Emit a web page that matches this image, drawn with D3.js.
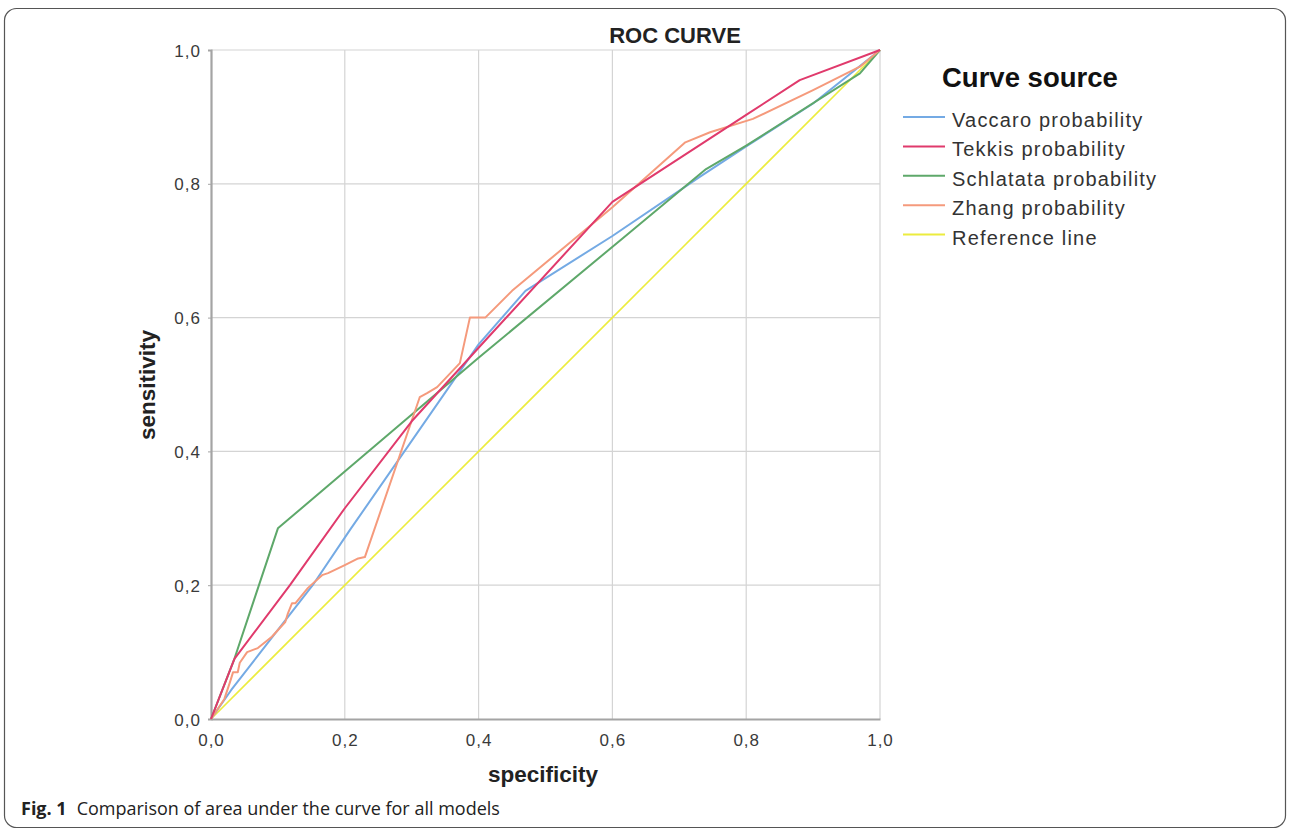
<!DOCTYPE html>
<html>
<head>
<meta charset="utf-8">
<script src="https://cdn.jsdelivr.net/npm/d3@7"></script>
<style>
  body { margin: 0; background: #fff; }
  svg { display: block; }
</style>
</head>
<body>
<div id="chart"></div>
<script>
// curve points as [1 - specificity, sensitivity] pairs
var vaccaro = [[0,0],[0.03,0.043],[0.152,0.2],[0.208,0.283],[0.4,0.56],[0.47,0.64],[0.6,0.722],[0.73,0.81],[0.8,0.856],[0.9,0.92],[1,1]];
var tekkis = [[0,0],[0.035,0.09],[0.118,0.2],[0.2,0.315],[0.3,0.445],[0.4,0.555],[0.6,0.773],[0.8,0.903],[0.88,0.955],[1,1]];
var schlatata = [[0,0],[0.035,0.09],[0.1,0.285],[0.4,0.54],[0.616,0.719],[0.74,0.822],[0.8,0.857],[0.97,0.965],[1,1]];
var zhang = [[0,0],[0.01,0.015],[0.02,0.03],[0.028,0.054],[0.033,0.07],[0.04,0.07],[0.043,0.084],[0.054,0.1],[0.07,0.106],
  [0.091,0.123],[0.111,0.145],[0.115,0.158],[0.121,0.173],[0.126,0.173],[0.145,0.196],[0.166,0.215],[0.175,0.218],
  [0.2,0.23],[0.22,0.24],[0.23,0.242],[0.312,0.481],[0.323,0.487],[0.338,0.496],[0.372,0.532],[0.387,0.6],[0.41,0.6],
  [0.45,0.64],[0.6,0.765],[0.709,0.862],[0.746,0.877],[0.81,0.897],[0.9,0.94],[0.97,0.975],[1,1]];
var reference = [[0,0],[1,1]];

var seriesNames = ["Vaccaro probability","Tekkis probability","Schlatata probability","Zhang probability","Reference line"];
var seriesData = [vaccaro, tekkis, schlatata, zhang, reference];
var seriesColors = ["#74aae4","#e03a6c","#5ea86a","#f59a7c","#ecec3e"];
var tickValues = [0, 0.2, 0.4, 0.6, 0.8, 1.0];

///////////
var totalW = 1290, totalH = 829;
var x0 = 211, x1 = 880, yTop = 50, yBot = 719;

var svg = d3.select("#chart").append("svg")
  .attr("width", totalW)
  .attr("height", totalH);

// frame of the figure
svg.append("rect")
  .attr("x", 4.5).attr("y", 8.5)
  .attr("width", 1281).attr("height", 819)
  .attr("rx", 12).attr("ry", 12)
  .attr("fill", "none").attr("stroke", "#555").attr("stroke-width", 1.2);

var x = d3.scaleLinear().domain([0, 1]).range([x0, x1]);
var y = d3.scaleLinear().domain([0, 1]).range([yBot, yTop]);
var fmt = function(d) { return d3.format(".1f")(d).replace(".", ","); };

/////////// GRID
var grid = svg.append("g").attr("stroke", "#d4d4d4").attr("stroke-width", 1.2);
tickValues.slice(1).forEach(function(t) {
  grid.append("line").attr("x1", x(t)).attr("x2", x(t)).attr("y1", yTop).attr("y2", yBot);
  grid.append("line").attr("x1", x0).attr("x2", x1).attr("y1", y(t)).attr("y2", y(t));
});

/////////// AXES
var xAxis = svg.append("g")
  .attr("transform", "translate(0," + yBot + ")")
  .call(d3.axisBottom(x).tickValues(tickValues).tickFormat(fmt).tickSize(0).tickPadding(15));
var yAxis = svg.append("g")
  .attr("transform", "translate(" + x0 + ",0)")
  .call(d3.axisLeft(y).tickValues(tickValues).tickFormat(fmt).tickSize(3).tickPadding(7));
[xAxis, yAxis].forEach(function(a) {
  a.select(".domain").attr("stroke", "#a4a4a4").attr("stroke-width", 2.2);
  a.selectAll(".tick line").attr("stroke", "#a4a4a4");
  a.selectAll("text")
    .attr("fill", "#3a3a3a")
    .style("font-family", "'Liberation Sans', Arial, sans-serif")
    .style("font-size", "17px")
    .style("letter-spacing", "1px");
});
yAxis.selectAll("text").attr("dy", "0.36em");

/////////// CURVES
var line = d3.line().x(function(d) { return x(d[0]); }).y(function(d) { return y(d[1]); });
var drawOrder = [4, 0, 2, 3, 1];
drawOrder.forEach(function(i) {
  svg.append("path")
    .datum(seriesData[i])
    .attr("d", line)
    .attr("fill", "none")
    .attr("stroke", seriesColors[i])
    .attr("stroke-width", i == 4 ? 1.6 : 2)
    .attr("stroke-linejoin", "round");
});

/////////// LABELS
var sans = "'Liberation Sans', Arial, sans-serif";
svg.append("text")
  .attr("x", 675).attr("y", 43)
  .attr("text-anchor", "middle")
  .style("font-family", sans).style("font-weight", "bold").style("font-size", "22px")
  .attr("fill", "#222")
  .text("ROC CURVE");

svg.append("text")
  .attr("x", 543).attr("y", 782)
  .attr("text-anchor", "middle")
  .style("font-family", sans).style("font-weight", "bold").style("font-size", "22.5px")
  .attr("fill", "#222")
  .text("specificity");

svg.append("text")
  .attr("transform", "translate(155,385) rotate(-90)")
  .attr("text-anchor", "middle")
  .style("font-family", sans).style("font-weight", "bold").style("font-size", "22.5px")
  .attr("fill", "#222")
  .text("sensitivity");

/////////// LEGEND
svg.append("text")
  .attr("x", 942).attr("y", 87)
  .style("font-family", sans).style("font-weight", "bold").style("font-size", "27.5px")
  .attr("fill", "#111")
  .text("Curve source");

var legend = svg.selectAll("g.leg")
  .data(seriesNames)
  .enter().append("g")
    .attr("class", "leg")
    .attr("transform", function(d, i) { return "translate(0," + (117 + i * 29.4) + ")"; });
legend.append("line")
  .attr("x1", 903).attr("x2", 945)
  .attr("stroke", function(d, i) { return seriesColors[i]; })
  .attr("stroke-width", 2);
legend.append("text")
  .attr("x", 952).attr("y", 10)
  .style("font-family", sans).style("font-size", "20px").style("letter-spacing", "1.2px")
  .attr("fill", "#333")
  .text(function(d) { return d; });

/////////// CAPTION
var cap = svg.append("text")
  .attr("x", 21).attr("y", 815)
  .style("font-family", "'Open Sans', 'Noto Sans', sans-serif").style("font-size", "18px")
  .attr("fill", "#222");
cap.append("tspan").style("font-weight", "bold").text("Fig. 1");
cap.append("tspan").attr("dx", 10).text("Comparison of area under the curve for all models");
</script>
</body>
</html>
